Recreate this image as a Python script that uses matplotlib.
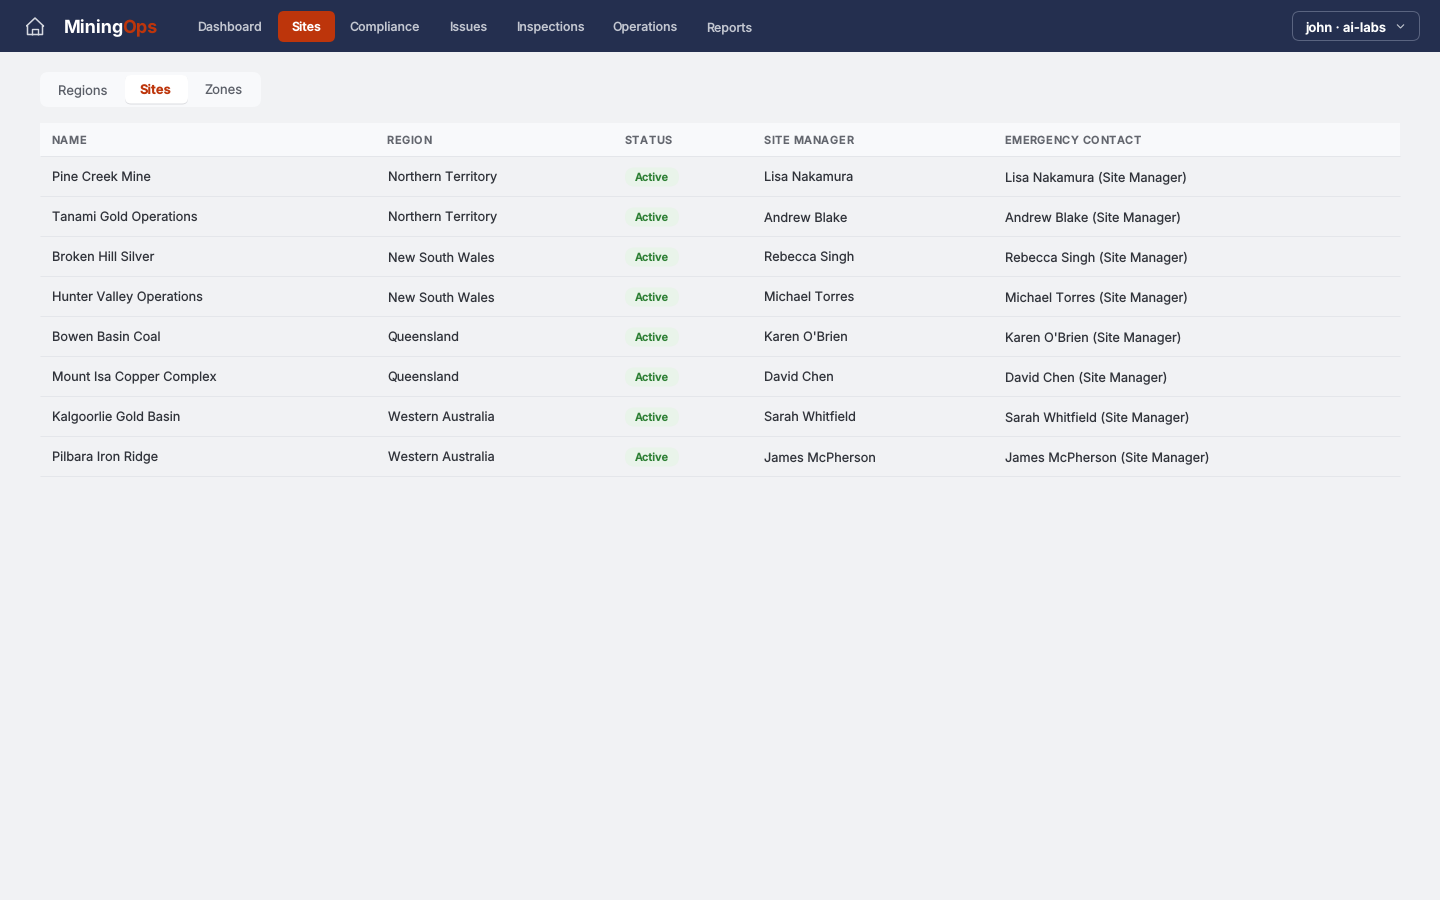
# Sites table page of the MiningOps dashboard, drawn in pixel coordinates.

import matplotlib
matplotlib.use('Agg')
import matplotlib.pyplot as plt
from matplotlib.patches import FancyBboxPatch, Rectangle, PathPatch
from matplotlib.path import Path

plt.rcParams['font.family'] = ['Inter', 'DejaVu Sans']
plt.rcParams['text.hinting'] = 'no_hinting'
plt.rcParams['lines.solid_capstyle'] = 'butt'

nav_labels = ['Dashboard', 'Sites', 'Compliance', 'Issues', 'Inspections', 'Operations', 'Reports']
nav_x = [230, 306.5, 385, 468.5, 550, 645, 729.5]
tab_labels = ['Regions', 'Sites', 'Zones']
tab_x = [83, 156, 224]
columns = ['NAME', 'REGION', 'STATUS', 'SITE MANAGER', 'EMERGENCY CONTACT']
column_x = [52, 387.5, 625, 764.5, 1005]
names = ['Pine Creek Mine', 'Tanami Gold Operations', 'Broken Hill Silver', 'Hunter Valley Operations',
         'Bowen Basin Coal', 'Mount Isa Copper Complex', 'Kalgoorlie Gold Basin', 'Pilbara Iron Ridge']
regions = ['Northern Territory', 'Northern Territory', 'New South Wales', 'New South Wales',
           'Queensland', 'Queensland', 'Western Australia', 'Western Australia']
statuses = ['Active'] * 8
managers = ['Lisa Nakamura', 'Andrew Blake', 'Rebecca Singh', 'Michael Torres',
            "Karen O'Brien", 'David Chen', 'Sarah Whitfield', 'James McPherson']
contacts = [m + ' (Site Manager)' for m in managers]

NAVY = '#242f4f'
RUST = '#bd350b'
BG = '#f1f2f4'
PX = 72 / 100  # font px to pt at dpi 100


def box(ax, x, y, w, h, r, **kw):
    ax.add_patch(FancyBboxPatch((x + r, y + r), w - 2 * r, h - 2 * r,
                                boxstyle=f'round,pad={r},rounding_size={r}', **kw))


def spaced(ax, fig, x, y, s, size, spacing, **kw):
    # letter spacing, placed by measuring the running width of the string
    rend = fig.canvas.get_renderer()
    for i, ch in enumerate(s):
        probe = ax.text(0, 0, s[:i] + '|', fontsize=size * PX, **kw)
        bar = ax.text(0, 0, '|', fontsize=size * PX, **kw)
        w = probe.get_window_extent(rend).width - bar.get_window_extent(rend).width
        probe.remove()
        bar.remove()
        ax.text(x + w + spacing * i, y, ch, fontsize=size * PX, va='baseline', ha='left', **kw)


def main():
    fig = plt.figure(figsize=(14.4, 9), dpi=100, facecolor=BG)
    ax = fig.add_axes([0, 0, 1, 1])
    ax.set_xlim(0, 1440)
    ax.set_ylim(900, 0)
    ax.axis('off')

    # top bar
    ax.add_patch(Rectangle((0, 0), 1440, 52, fc=NAVY, ec='none'))

    # home icon
    verts = [(26.5, 26), (35, 18), (43.5, 26), (42.5, 26), (42.5, 34.5), (27.5, 34.5), (27.5, 26), (26.5, 26)]
    ax.add_patch(PathPatch(Path(verts), fc='none', ec='#d5d8e0', lw=1.1, joinstyle='round'))
    ax.plot([32, 32, 38, 38], [34.5, 28.5, 28.5, 34.5], color='#d5d8e0', lw=1.0)

    # logo
    ax.text(64, 33, 'Mining', color='white', fontsize=18 * PX, fontweight='bold', va='baseline')
    ax.text(122.5, 33, 'Ops', color=RUST, fontsize=18 * PX, fontweight='bold', va='baseline')

    # nav
    box(ax, 278, 11, 57, 31, 6, fc=RUST, ec='none')
    for label, x in zip(nav_labels, nav_x):
        active = label == 'Sites'
        ax.text(x, 31, label, color='white' if active else '#c3c7d1', fontsize=12.4 * PX,
                fontweight='semibold' if active else 'medium', ha='center', va='baseline')

    # user menu
    box(ax, 1292.5, 11.5, 127, 29, 7, fc='none', ec='#5a6480', lw=0.72)
    ax.text(1346, 31, 'john · ai-labs', color='white', fontsize=13 * PX, fontweight='semibold',
            ha='center', va='baseline')
    ax.plot([1397, 1400.5, 1404], [24.5, 28, 24.5], color='#c3c7d1', lw=0.8)

    # sub tabs
    box(ax, 40, 72, 221, 35, 8, fc='#f8f9fb', ec='none')
    box(ax, 125, 75.5, 63, 29, 6, fc='#dcdde1', ec='none', zorder=2)
    box(ax, 125, 75, 63, 28.5, 6, fc='white', ec='none', zorder=2)
    for label, x in zip(tab_labels, tab_x):
        active = label == 'Sites'
        ax.text(x - 0.5, 94, label, color=RUST if active else '#5b5f68', fontsize=13 * PX,
                fontweight='bold' if active else 'normal', ha='center', va='baseline', zorder=3)

    # table header
    ax.add_patch(Rectangle((40, 123), 1360, 33.5, fc='#f8f9fb', ec='none'))
    ax.plot([40, 1400], [156, 156], color='#e4e6ea', lw=0.72)
    for label, x in zip(columns, column_x):
        spaced(ax, fig, x - 0.8, 144, label, 11, 0.55, color='#63666e', fontweight='semibold')

    # table rows
    for i in range(len(names)):
        y = 177 + 40 * i
        ax.plot([40, 1400], [y + 19, y + 19], color='#e4e6ea', lw=0.72)
        for x, s in [(column_x[0], names[i]), (column_x[1], regions[i]),
                     (column_x[3], managers[i]), (column_x[4], contacts[i])]:
            ax.text(x, y + 4.5, s, color='#30333a', fontsize=12.75 * PX, va='baseline')
        box(ax, 625, y - 9.5, 54, 19, 9.5, fc='#e9f4ea', ec='none')
        ax.text(652, y + 4, statuses[i], color='#2e8035', fontsize=11 * PX, fontweight='semibold',
                ha='center', va='baseline')

    plt.savefig('out.png', dpi=100, facecolor=BG)


if __name__ == '__main__':
    main()
